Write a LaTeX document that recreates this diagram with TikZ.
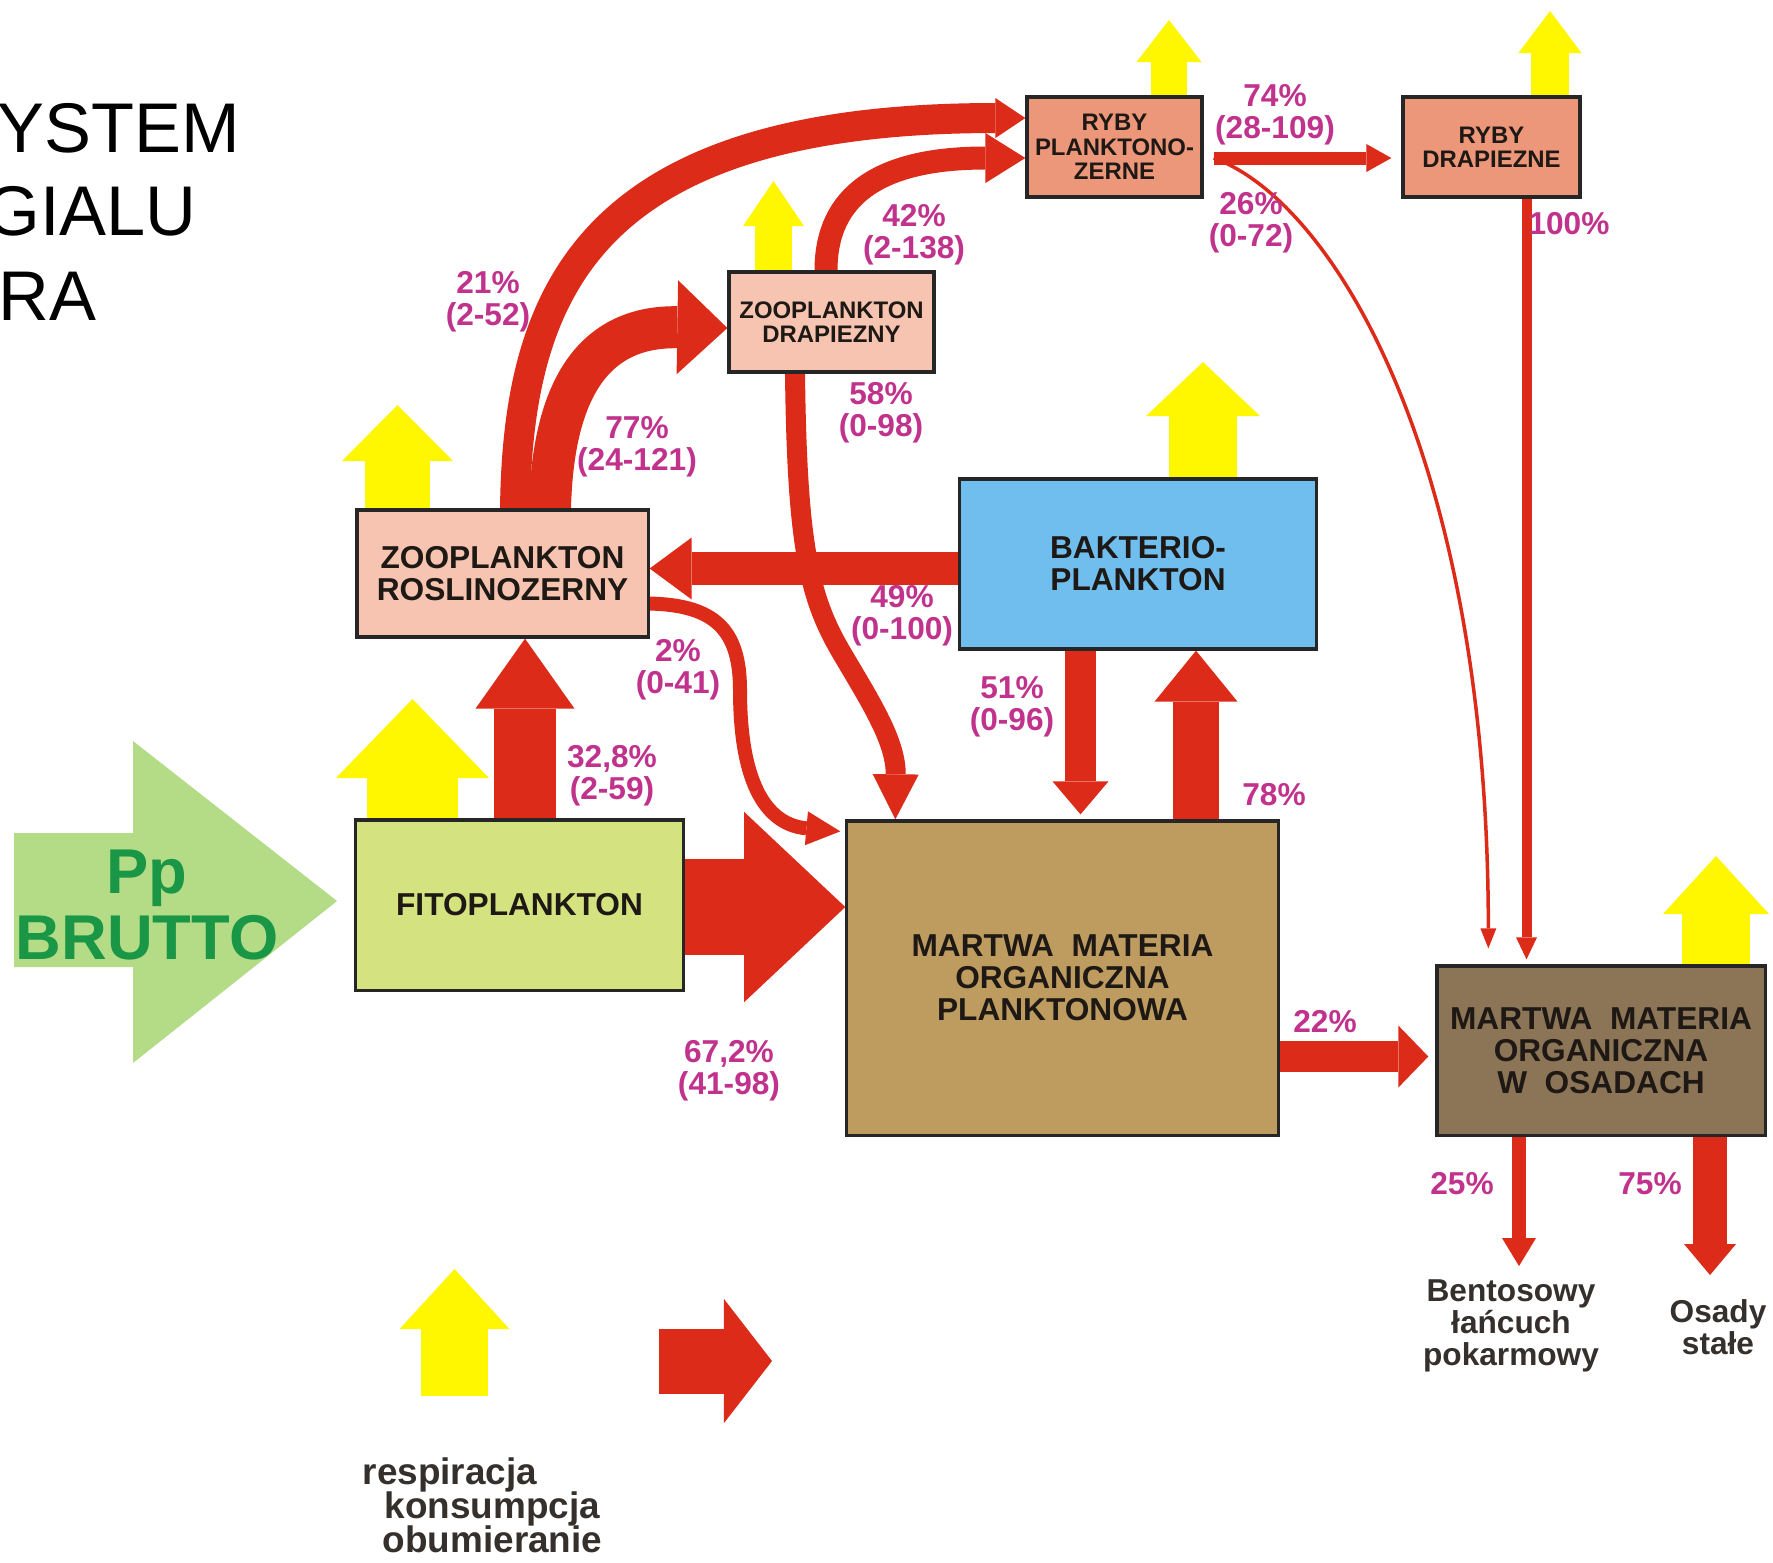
\documentclass[tikz,border=0pt]{standalone}
\usepackage{fontspec}
\setmainfont{Liberation Sans}
\usetikzlibrary{arrows.meta,backgrounds,calc}

\definecolor{flowred}{RGB}{221,43,25}
\definecolor{respyellow}{RGB}{255,247,0}
\definecolor{labelmag}{RGB}{192,50,140}
\definecolor{zoosalmon}{RGB}{246,196,176}
\definecolor{fishsalmon}{RGB}{236,150,122}
\definecolor{bactblue}{RGB}{112,190,238}
\definecolor{phytogreen}{RGB}{212,227,128}
\definecolor{detritus}{RGB}{190,156,96}
\definecolor{sediment}{RGB}{140,116,86}
\definecolor{inputgreen}{RGB}{180,220,135}
\definecolor{inputtext}{RGB}{25,150,70}
\definecolor{boxtext}{RGB}{30,25,20}

\begin{document}
\begin{tikzpicture}[x=0.01cm,y=-0.01cm,
  compartment/.style={draw=black!85, line width=0.9pt, inner sep=0pt, align=center,
    text=boxtext, font=\bfseries\fontsize{9}{9.1}\selectfont},
  smallcomp/.style={compartment, font=\bfseries\fontsize{6.8}{6.9}\selectfont},
  pct/.style={text=labelmag, align=center, inner sep=0pt,
    font=\bfseries\fontsize{9}{9.2}\selectfont},
  outlet/.style={text=boxtext!90, align=center, inner sep=0pt,
    font=\bfseries\fontsize{9}{9.1}\selectfont},
  flow/.style={color=flowred, line width=#1},
  resp/.style={color=respyellow, line width=#1},
  tiphead/.style 2 args={-{Triangle[length=#1,width=#2,line width=0pt]}}
]
\useasboundingbox (0,0) rectangle (1773,1562);
\begin{pgfonlayer}{background}
  \fill[white] (0,0) rectangle (1773,1562);
\end{pgfonlayer}

% ---------- title ----------
\begin{scope}[every node/.style={anchor=base west, inner sep=0pt, font=\fontsize{20}{24}\selectfont}]
  \node (t1) at (-3,152) {YSTEM};
  \node (t2) at (-15,235) {GIALU};
  \node (t3) at (-2,320) {RA};
\end{scope}

% ---------- gross primary production input ----------
\fill[inputgreen] (14,833) -- (133,833) -- (133,741) -- (337,901) -- (133,1063)
  -- (133,967) -- (14,967) -- cycle;
\node[anchor=base, inner sep=0pt, text=inputtext, font=\bfseries\fontsize{18}{20}\selectfont]
  (pp) at (147,893) {Pp};
\node[anchor=base, inner sep=0pt, text=inputtext, font=\bfseries\fontsize{18}{20}\selectfont]
  (brutto) at (147,959) {BRUTTO};

% ---------- compartments ----------
\node[smallcomp, fill=fishsalmon, minimum width=1.75cm, minimum height=1.00cm]
  (rp) at (1114.5,147) {RYBY\\PLANKTONO-\\ZERNE};
\node[smallcomp, fill=fishsalmon, minimum width=1.77cm, minimum height=1.00cm]
  (rd) at (1491.5,147) {RYBY\\DRAPIEZNE};
\node[smallcomp, fill=zoosalmon, minimum width=2.05cm, minimum height=1.00cm]
  (zd) at (831.5,322) {ZOOPLANKTON\\DRAPIEZNY};
\node[compartment, fill=zoosalmon, minimum width=2.91cm, minimum height=1.27cm]
  (zr) at (502.5,573.5) {ZOOPLANKTON\\ROSLINOZERNY};
\node[compartment, fill=bactblue, minimum width=3.56cm, minimum height=1.70cm]
  (bak) at (1138,564) {BAKTERIO-\\PLANKTON};
\node[compartment, fill=phytogreen, minimum width=3.27cm, minimum height=1.70cm]
  (fito) at (519.5,905) {FITOPLANKTON};
\node[compartment, fill=detritus, minimum width=4.31cm, minimum height=3.14cm]
  (mp) at (1062.5,978) {MARTWA~~MATERIA\\ORGANICZNA\\PLANKTONOWA};
\node[compartment, fill=sediment, minimum width=3.28cm, minimum height=1.69cm]
  (mo) at (1601,1050.5) {MARTWA~~MATERIA\\ORGANICZNA\\W~~OSADACH};

% ---------- outlets below the sediment ----------
\node[outlet] (bent) at (1511,1326) {Bentosowy\\łańcuch\\pokarmowy};
\node[outlet] (osady) at (1718,1327) {Osady\\stałe};

% ---------- rails for straight flows ----------
\coordinate (xa) at (525,0);
\coordinate (xb) at (1080.5,0);
\coordinate (xc) at (1196,0);
\coordinate (xf) at (1526.5,0);
\coordinate (ya) at (0,907);
\coordinate (yb) at (0,568.5);
\coordinate (yc) at (0,1056.5);
\coordinate (yd) at (0,158);
\coordinate (bentin) at (1519,1266);
\coordinate (osadyin) at (1710,1275);

\begin{pgfonlayer}{background}
  % respiration outputs
  \coordinate (rpout) at (1169,20);
  \coordinate (rdout) at (1550,11);
  \coordinate (zdout) at (773.5,181);
  \coordinate (zrout) at (397.5,405);
  \coordinate (bakout) at (1203,362);
  \coordinate (fitoout) at (412.5,699);
  \coordinate (moout) at (1716,856);
  \draw[resp=0.36cm, tiphead={0.42cm}{0.65cm}] (rpout |- rp.north) -- (rpout);
  \draw[resp=0.38cm, tiphead={0.42cm}{0.63cm}] (rdout |- rd.north) -- (rdout);
  \draw[resp=0.37cm, tiphead={0.45cm}{0.61cm}] (zdout |- zd.north) -- (zdout);
  \draw[resp=0.65cm, tiphead={0.56cm}{1.11cm}] (zrout |- zr.north) -- (zrout);
  \draw[resp=0.68cm, tiphead={0.54cm}{1.14cm}] (bakout |- bak.north) -- (bakout);
  \draw[resp=0.91cm, tiphead={0.79cm}{1.53cm}] (fitoout |- fito.north) -- (fitoout);
  \draw[resp=0.68cm, tiphead={0.58cm}{1.06cm}] (moout |- mo.north) -- (moout);

  % straight consumption / mortality flows
  \draw[flow=0.62cm, tiphead={0.70cm}{0.99cm}] (xa |- fito.north) -- (xa |- zr.south);
  \draw[flow=0.96cm, tiphead={1.01cm}{1.90cm}] (ya -| fito.east) -- (ya -| mp.west);
  \draw[flow=0.33cm, tiphead={0.42cm}{0.62cm}] (yb -| bak.west) -- (yb -| zr.east);
  \draw[flow=0.31cm, tiphead={0.33cm}{0.56cm}, shorten >=0.05cm] (xb |- bak.south) -- (xb |- mp.north);
  \draw[flow=0.46cm, tiphead={0.51cm}{0.83cm}] (xc |- mp.north) -- (xc |- bak.south);
  \draw[flow=0.31cm, tiphead={0.30cm}{0.62cm}, shorten >=0.07cm] (yc -| mp.east) -- (yc -| mo.west);
  \draw[flow=0.14cm, tiphead={0.28cm}{0.34cm}] (bentin |- mo.south) -- (bentin);
  \draw[flow=0.34cm, tiphead={0.31cm}{0.52cm}] (osadyin |- mo.south) -- (osadyin);
  \draw[flow=0.10cm, tiphead={0.22cm}{0.21cm}, shorten >=0.05cm] (xf |- rd.south) -- (xf |- mo.north);
  \draw[flow=0.13cm, tiphead={0.25cm}{0.28cm}, shorten <=0.10cm, shorten >=0.10cm]
    (yd -| rp.east) -- (yd -| rd.west);

  % curved flows
  \coordinate (xg) at (515,0);
  \coordinate (xh) at (550,0);
  \coordinate (xi) at (826,0);
  \coordinate (xj) at (795,0);
  \coordinate (ye) at (0,118);
  \draw[flow=0.30cm, tiphead={0.30cm}{0.40cm}] (xg |- zr.north)
    .. controls (518,290) and (590,118) .. (ye -| rp.west);
  \draw[flow=0.42cm, tiphead={0.50cm}{0.94cm}] (xh |- zr.north)
    .. controls (553,380) and (600,326) .. ([yshift=-0.06cm]zd.west);
  \draw[flow=0.23cm, tiphead={0.40cm}{0.50cm}] (xi |- zd.north)
    .. controls (826,195) and (880,158) .. (yd -| rp.west);
  \draw[flow=0.20cm, tiphead={0.45cm}{0.46cm}] (xj |- zd.south)
    .. controls (797,540) and (808,595) .. (840,650)
    .. controls (868,698) and (896,740) .. ([xshift=0.50cm]mp.north west);
  \draw[flow=0.14cm, tiphead={0.34cm}{0.34cm}] ([yshift=-0.30cm]zr.east)
    .. controls (715,605) and (740,630) .. (740,690)
    .. controls (740,790) and (770,825) .. ([xshift=-0.05cm,yshift=-0.12cm]mp.north west);
  \draw[flow=0.035cm, tiphead={0.20cm}{0.16cm}] ([xshift=0.10cm,yshift=-0.11cm]rp.east)
    .. controls (1330,200) and (1488,450) .. ([xshift=0.53cm,yshift=0.16cm]mo.north west);

  % legend arrows
  \coordinate (legy) at (454.5,1396);
  \coordinate (legytip) at (454.5,1269);
  \coordinate (legr) at (659,1361);
  \coordinate (legrtip) at (772,1361);
  \draw[resp=0.67cm, tiphead={0.60cm}{1.10cm}] (legy) -- (legytip);
  \draw[flow=0.65cm, tiphead={0.48cm}{1.24cm}] (legr) -- (legrtip);
\end{pgfonlayer}

% ---------- flow percentages ----------
\node[pct] (l21) at (488,302) {21\%\\(2-52)};
\node[pct] (l77) at (637,447) {77\%\\(24-121)};
\node[pct] (l42) at (914,235) {42\%\\(2-138)};
\node[pct] (l58) at (881,413) {58\%\\(0-98)};
\node[pct] (l74) at (1275,115) {74\%\\(28-109)};
\node[pct] (l26) at (1251,223) {26\%\\(0-72)};
\node[pct] (l100) at (1569,224) {100\%};
\node[pct] (l49) at (902,616) {49\%\\(0-100)};
\node[pct] (l2) at (678,670) {2\%\\(0-41)};
\node[pct] (l328) at (612,776) {32,8\%\\(2-59)};
\node[pct] (l51) at (1012,707) {51\%\\(0-96)};
\node[pct] (l78) at (1274,795) {78\%};
\node[pct] (l672) at (729,1071) {67,2\%\\(41-98)};
\node[pct] (l22) at (1325,1022) {22\%};
\node[pct] (l25) at (1462,1184) {25\%};
\node[pct] (l75) at (1650,1184) {75\%};

% ---------- legend text ----------
\begin{scope}[every node/.style={anchor=base west, inner sep=0pt, text=boxtext!90,
    font=\bfseries\fontsize{10.5}{12}\selectfont}]
  \node (lg1) at (362,1484) {respiracja};
  \node (lg2) at (384,1518) {konsumpcja};
  \node (lg3) at (382,1552) {obumieranie};
\end{scope}
\end{tikzpicture}
\end{document}
